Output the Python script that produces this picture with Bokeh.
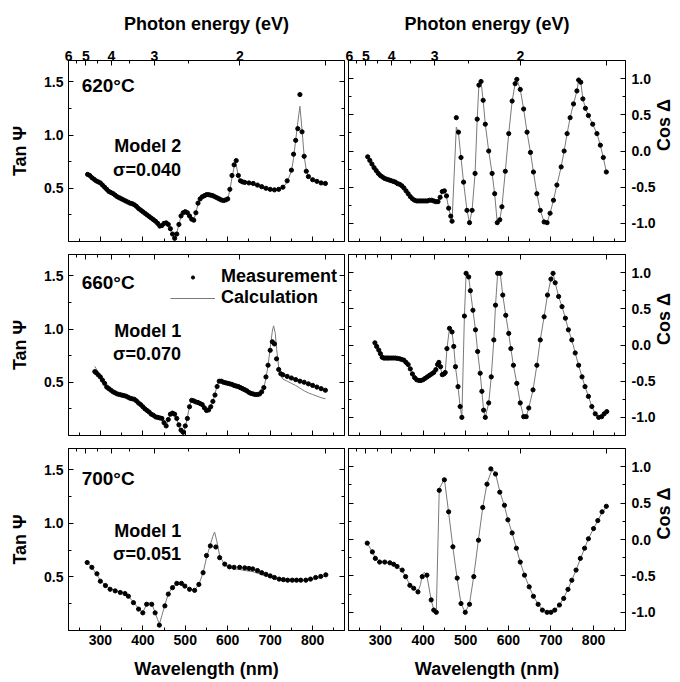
import math
from bokeh.plotting import figure
from bokeh.models import (Range1d, LinearAxis, FixedTicker, NumeralTickFormatter,
                          CustomJSTickFormatter, Label, Legend, LegendItem)
from bokeh.layouts import gridplot
from bokeh.embed import file_html
from bokeh.resources import INLINE

FONT = "Liberation Sans"

# ---------------- data ----------------
# 620 C, Tan Psi
TL_WL = [270, 275, 280, 285, 290, 295, 300, 305, 310, 315,
         320, 325, 330, 335, 340, 345, 350, 355, 360, 365,
         370, 375, 380, 385, 390, 395, 400, 405, 410, 415,
         420, 425, 430, 435, 440, 445, 450, 455, 460, 465,
         470, 475, 480, 485, 490, 495, 500, 505, 510, 515,
         520, 525, 530, 535, 540, 545, 550, 555, 560, 565,
         570, 575, 580, 585, 590, 595, 600, 605, 610, 615,
         620, 625, 630, 635, 640, 650, 660, 670, 680, 690,
         700, 710, 720, 730, 740, 750, 755, 760, 765, 770,
         775, 780, 785, 790, 800, 810, 820, 830]
TL_MEAS = [0.63, 0.62, 0.60, 0.585, 0.57, 0.56, 0.55, 0.53, 0.51, 0.49,
           0.47, 0.46, 0.45, 0.435, 0.42, 0.41, 0.40, 0.39, 0.38, 0.37,
           0.36, 0.355, 0.345, 0.33, 0.31, 0.295, 0.28, 0.265, 0.25, 0.235,
           0.22, 0.205, 0.19, 0.17, 0.145, 0.15, 0.17, 0.175, 0.16, 0.12,
           0.07, 0.03, 0.07, 0.16, 0.24, 0.27, 0.28, 0.27, 0.24, 0.21,
           0.20, 0.27, 0.36, 0.40, 0.42, 0.43, 0.44, 0.44, 0.435, 0.43,
           0.42, 0.41, 0.40, 0.39, 0.385, 0.39, 0.40, 0.49, 0.62, 0.72,
           0.76, 0.62, 0.57, 0.56, 0.555, 0.55, 0.545, 0.53, 0.515, 0.50,
           0.49, 0.485, 0.49, 0.51, 0.57, 0.67, 0.82, 0.95, 1.06, 1.38,
           1.03, 0.80, 0.66, 0.61, 0.58, 0.565, 0.55, 0.545]
TL_CWL = [270, 280, 290, 300, 310, 320, 330, 340, 350, 360,
          370, 380, 390, 400, 410, 420, 430, 440, 445, 450,
          455, 460, 465, 470, 475, 480, 485, 490, 495, 500,
          505, 510, 515, 520, 525, 530, 535, 540, 550, 560,
          570, 580, 590, 600, 605, 610, 615, 620, 625, 630,
          640, 650, 660, 670, 680, 690, 700, 710, 720, 730,
          740, 750, 755, 760, 765, 770, 775, 780, 785, 790,
          800, 810, 820, 830]
TL_CALC = [0.63, 0.60, 0.57, 0.55, 0.51, 0.47, 0.45, 0.42, 0.40, 0.38,
           0.36, 0.345, 0.31, 0.28, 0.25, 0.22, 0.19, 0.15, 0.155, 0.17,
           0.175, 0.155, 0.11, 0.06, 0.035, 0.08, 0.16, 0.235, 0.265, 0.275,
           0.265, 0.235, 0.205, 0.20, 0.27, 0.35, 0.39, 0.41, 0.425, 0.425,
           0.415, 0.395, 0.38, 0.40, 0.48, 0.60, 0.70, 0.72, 0.61, 0.565,
           0.55, 0.545, 0.535, 0.52, 0.505, 0.49, 0.48, 0.48, 0.485, 0.505,
           0.56, 0.66, 0.78, 0.95, 1.12, 1.27, 1.05, 0.80, 0.67, 0.61,
           0.58, 0.565, 0.55, 0.545]

# 620 C, Cos Delta
TR_WL = [270, 275, 280, 285, 290, 295, 300, 305, 310, 315,
         320, 325, 330, 335, 340, 345, 350, 355, 360, 365,
         370, 375, 380, 385, 390, 395, 400, 405, 410, 415,
         420, 425, 430, 435, 440, 445, 450, 455, 460, 465,
         468, 478, 483, 489, 495, 503, 509, 515, 522, 527,
         531, 536, 541, 546, 554, 562, 568, 574, 580, 585,
         593, 601, 609, 616, 620, 628, 636, 644, 652, 659,
         667, 675, 684, 691, 698, 706, 714, 724, 731, 738,
         745, 753, 761, 765, 770, 775, 781, 788, 798, 808,
         816, 823, 830]
TR_MEAS = [-0.08, -0.13, -0.18, -0.23, -0.27, -0.31, -0.34, -0.36, -0.38, -0.39,
           -0.40, -0.41, -0.42, -0.43, -0.45, -0.46, -0.48, -0.51, -0.55, -0.59,
           -0.63, -0.66, -0.68, -0.69, -0.69, -0.69, -0.69, -0.69, -0.69, -0.68,
           -0.68, -0.69, -0.70, -0.70, -0.64, -0.56, -0.55, -0.62, -0.79, -0.90,
           -0.97, 0.46, 0.26, -0.09, -0.43, -0.82, -0.99, -0.82, -0.31, 0.44,
           0.91, 0.96, 0.70, 0.37, 0.00, -0.31, -0.59, -0.99, -0.95, -0.77,
           -0.28, 0.24, 0.69, 0.93, 0.99, 0.85, 0.58, 0.26, -0.02, -0.29,
           -0.59, -0.82, -0.98, -0.99, -0.86, -0.68, -0.47, -0.22, 0.00, 0.24,
           0.46, 0.65, 0.83, 0.98, 0.95, 0.72, 0.59, 0.49, 0.37, 0.24,
           0.08, -0.09, -0.29]
TR_CALC = [-0.08, -0.13, -0.18, -0.23, -0.27, -0.31, -0.34, -0.36, -0.38, -0.39,
           -0.40, -0.41, -0.42, -0.43, -0.45, -0.46, -0.48, -0.51, -0.55, -0.59,
           -0.63, -0.66, -0.68, -0.69, -0.69, -0.69, -0.69, -0.69, -0.69, -0.68,
           -0.68, -0.69, -0.70, -0.70, -0.64, -0.57, -0.56, -0.63, -0.79, -0.90,
           -0.97, 0.33, 0.25, -0.09, -0.43, -0.82, -0.99, -0.82, -0.31, 0.44,
           0.91, 0.96, 0.70, 0.37, 0.00, -0.31, -0.59, -0.99, -0.95, -0.77,
           -0.28, 0.24, 0.69, 0.93, 0.99, 0.85, 0.58, 0.26, -0.02, -0.29,
           -0.59, -0.82, -0.98, -0.99, -0.86, -0.68, -0.47, -0.22, 0.00, 0.24,
           0.46, 0.65, 0.83, 0.98, 0.95, 0.72, 0.59, 0.49, 0.37, 0.24,
           0.08, -0.09, -0.29]

# 660 C, Tan Psi
ML_WL = [287, 290, 295, 300, 305, 310, 315, 320, 325, 330,
         335, 340, 345, 350, 355, 360, 365, 370, 375, 380,
         385, 390, 395, 400, 405, 410, 415, 420, 425, 430,
         435, 440, 445, 450, 455, 460, 465, 470, 475, 480,
         485, 490, 495, 500, 505, 510, 515, 520, 525, 530,
         535, 540, 545, 550, 555, 560, 565, 570, 575, 580,
         585, 590, 595, 600, 605, 610, 615, 620, 625, 630,
         635, 640, 645, 650, 655, 660, 665, 670, 675, 680,
         685, 690, 695, 700, 705, 710, 715, 720, 725, 730,
         740, 750, 760, 770, 780, 790, 800, 810, 820, 830]
ML_MEAS = [0.60, 0.59, 0.57, 0.55, 0.52, 0.49, 0.455, 0.44, 0.425, 0.41,
           0.40, 0.39, 0.385, 0.38, 0.375, 0.37, 0.36, 0.35, 0.345, 0.34,
           0.325, 0.305, 0.29, 0.27, 0.25, 0.235, 0.22, 0.20, 0.19, 0.175,
           0.17, 0.165, 0.16, 0.12, 0.09, 0.15, 0.20, 0.21, 0.20, 0.16,
           0.10, 0.05, 0.03, 0.09, 0.16, 0.27, 0.33, 0.325, 0.315, 0.31,
           0.30, 0.29, 0.26, 0.235, 0.24, 0.27, 0.32, 0.38, 0.46, 0.51,
           0.51, 0.50, 0.495, 0.49, 0.485, 0.48, 0.47, 0.465, 0.46, 0.45,
           0.44, 0.43, 0.42, 0.405, 0.395, 0.39, 0.385, 0.385, 0.39, 0.41,
           0.45, 0.55, 0.66, 0.80, 0.88, 0.86, 0.72, 0.62, 0.58, 0.57,
           0.555, 0.54, 0.525, 0.51, 0.50, 0.485, 0.47, 0.455, 0.44, 0.425]
ML_CWL = [287, 290, 300, 310, 320, 330, 340, 350, 360, 370,
          380, 390, 400, 410, 420, 430, 440, 445, 450, 455,
          460, 465, 470, 475, 480, 485, 490, 495, 500, 505,
          510, 515, 520, 530, 540, 545, 550, 555, 560, 565,
          570, 575, 580, 590, 600, 610, 620, 630, 640, 650,
          660, 670, 680, 685, 690, 695, 700, 705, 708, 712,
          715, 720, 725, 730, 740, 750, 760, 770, 780, 790,
          800, 810, 820, 830]
ML_CALC = [0.65, 0.63, 0.56, 0.49, 0.44, 0.41, 0.39, 0.38, 0.37, 0.35,
           0.34, 0.305, 0.27, 0.235, 0.20, 0.175, 0.165, 0.155, 0.115, 0.09,
           0.15, 0.21, 0.22, 0.20, 0.15, 0.09, 0.04, 0.02, 0.08, 0.17,
           0.28, 0.33, 0.32, 0.30, 0.28, 0.25, 0.225, 0.23, 0.26, 0.32,
           0.39, 0.47, 0.52, 0.50, 0.48, 0.465, 0.445, 0.43, 0.41, 0.39,
           0.375, 0.37, 0.395, 0.44, 0.54, 0.66, 0.82, 0.98, 1.03, 0.96,
           0.82, 0.64, 0.56, 0.53, 0.51, 0.49, 0.47, 0.445, 0.42, 0.40,
           0.385, 0.37, 0.355, 0.345]

# 660 C, Cos Delta
MR_WL = [287, 291, 296, 300, 304, 308, 312, 316, 320, 325,
         330, 335, 340, 345, 350, 355, 360, 365, 370, 375,
         380, 385, 390, 395, 400, 405, 410, 415, 420, 425,
         430, 434, 437, 441, 445, 449, 452, 456, 462, 468,
         472, 476, 482, 487, 491, 497, 501, 507, 511, 517,
         523, 528, 534, 538, 542, 546, 554, 560, 566, 570,
         575, 581, 587, 594, 601, 606, 612, 620, 628, 636,
         642, 648, 658, 667, 675, 684, 692, 700, 705, 710,
         718, 726, 734, 741, 749, 757, 765, 773, 780, 788,
         796, 804, 812, 819, 825, 831]
MR_MEAS = [0.03, -0.02, -0.07, -0.12, -0.17, -0.18, -0.18, -0.18, -0.18, -0.18,
           -0.18, -0.18, -0.185, -0.19, -0.20, -0.21, -0.24, -0.27, -0.33, -0.40,
           -0.45, -0.48, -0.49, -0.49, -0.48, -0.46, -0.44, -0.42, -0.40, -0.38,
           -0.34, -0.27, -0.24, -0.30, -0.41, -0.40, -0.38, -0.05, 0.23, 0.18,
           -0.02, -0.30, -0.575, -0.85, -1.00, 0.40, 0.99, 0.94, 0.75, 0.48,
           0.21, -0.09, -0.39, -0.64, -0.90, -1.00, -0.80, -0.44, 0.07, 0.55,
           0.99, 0.99, 0.69, 0.41, 0.16, -0.05, -0.28, -0.53, -0.80, -0.99,
           -0.99, -0.87, -0.62, -0.28, 0.07, 0.39, 0.69, 0.91, 0.99, 0.86,
           0.67, 0.53, 0.37, 0.21, 0.07, -0.11, -0.28, -0.44, -0.575, -0.71,
           -0.85, -0.95, -1.00, -0.99, -0.95, -0.92]
MR_CALC = [0.04, -0.02, -0.08, -0.13, -0.18, -0.20, -0.20, -0.19, -0.19, -0.18,
           -0.18, -0.18, -0.185, -0.19, -0.20, -0.21, -0.24, -0.28, -0.34, -0.41,
           -0.46, -0.49, -0.50, -0.49, -0.48, -0.46, -0.44, -0.42, -0.40, -0.38,
           -0.34, -0.27, -0.24, -0.31, -0.42, -0.41, -0.38, -0.05, 0.23, 0.18,
           -0.02, -0.30, -0.575, -0.85, -1.00, 0.40, 0.99, 0.94, 0.75, 0.48,
           0.21, -0.09, -0.39, -0.64, -0.90, -1.00, -0.80, -0.44, 0.07, 0.55,
           0.99, 0.99, 0.69, 0.41, 0.16, -0.05, -0.28, -0.53, -0.80, -0.99,
           -0.99, -0.87, -0.62, -0.28, 0.07, 0.39, 0.69, 0.91, 0.99, 0.86,
           0.67, 0.53, 0.37, 0.21, 0.07, -0.11, -0.28, -0.44, -0.575, -0.71,
           -0.85, -0.95, -1.00, -0.99, -0.95, -0.92]

# 700 C, Tan Psi
BL_WL = [269, 280, 292, 300, 312, 323, 335, 347, 358, 366,
         378, 390, 400, 409, 421, 429, 439, 452, 460, 470,
         480, 491, 499, 510, 522, 532, 542, 550, 559, 572,
         581, 593, 604, 615, 628, 640, 650, 659, 670, 680,
         690, 700, 710, 721, 731, 741, 752, 762, 772, 784,
         795, 807, 819, 831]
BL_MEAS = [0.635, 0.59, 0.53, 0.46, 0.42, 0.385, 0.37, 0.355, 0.345, 0.32,
           0.26, 0.20, 0.165, 0.245, 0.245, 0.165, 0.05, 0.23, 0.34, 0.40,
           0.44, 0.44, 0.415, 0.385, 0.375, 0.43, 0.54, 0.70, 0.79, 0.78,
           0.68, 0.62, 0.595, 0.59, 0.59, 0.585, 0.58, 0.575, 0.56, 0.54,
           0.525, 0.51, 0.495, 0.48, 0.475, 0.47, 0.47, 0.47, 0.47, 0.47,
           0.48, 0.495, 0.505, 0.52]
BL_CWL = [269, 280, 292, 300, 312, 323, 335, 347, 358, 366,
          378, 390, 400, 405, 409, 415, 421, 429, 435, 439,
          445, 452, 460, 470, 480, 491, 499, 510, 522, 532,
          542, 550, 559, 565, 569, 574, 581, 593, 604, 615,
          628, 640, 650, 659, 670, 680, 690, 700, 710, 721,
          731, 741, 752, 762, 772, 784, 795, 807, 819, 831]
BL_CALC = [0.64, 0.59, 0.52, 0.47, 0.42, 0.39, 0.375, 0.36, 0.345, 0.32,
           0.265, 0.205, 0.17, 0.21, 0.245, 0.26, 0.25, 0.17, 0.10, 0.06,
           0.14, 0.24, 0.34, 0.41, 0.43, 0.43, 0.41, 0.385, 0.38, 0.43,
           0.54, 0.68, 0.80, 0.88, 0.92, 0.84, 0.70, 0.61, 0.585, 0.575,
           0.57, 0.56, 0.555, 0.55, 0.535, 0.52, 0.51, 0.495, 0.485, 0.475,
           0.47, 0.465, 0.465, 0.465, 0.465, 0.47, 0.475, 0.485, 0.495, 0.51]

# 700 C, Cos Delta
BR_WL = [269, 281, 288, 298, 310, 322, 331, 339, 351, 359,
         369, 378, 388, 398, 409, 419, 425, 431, 438, 450,
         460, 470, 480, 489, 499, 509, 519, 530, 540, 550,
         559, 570, 580, 591, 599, 609, 619, 628, 638, 649,
         659, 670, 680, 691, 700, 709, 720, 730, 740, 749,
         759, 769, 779, 788, 800, 810, 820, 830]
BR_MEAS = [-0.05, -0.17, -0.26, -0.31, -0.31, -0.32, -0.34, -0.37, -0.42, -0.51,
           -0.63, -0.67, -0.72, -0.51, -0.49, -0.83, -0.97, -1.00, 0.675, 0.82,
           0.38, -0.10, -0.53, -0.88, -1.00, -0.89, -0.51, -0.01, 0.44, 0.76,
           0.97, 0.90, 0.65, 0.47, 0.27, 0.09, -0.12, -0.31, -0.49, -0.65,
           -0.78, -0.89, -0.97, -1.00, -1.00, -0.97, -0.90, -0.81, -0.685, -0.56,
           -0.42, -0.26, -0.12, 0.01, 0.15, 0.26, 0.38, 0.456]
BR_CWL = [269, 281, 288, 298, 310, 322, 331, 339, 351, 359,
          369, 378, 388, 394, 398, 403, 409, 419, 425, 431,
          438, 450, 460, 470, 480, 489, 499, 509, 519, 530,
          540, 550, 559, 565, 570, 580, 591, 599, 609, 619,
          628, 638, 649, 659, 670, 680, 691, 700, 709, 720,
          730, 740, 749, 759, 769, 779, 788, 800, 810, 820,
          830]
BR_CALC = [-0.05, -0.17, -0.25, -0.30, -0.31, -0.32, -0.34, -0.37, -0.43, -0.51,
           -0.62, -0.67, -0.71, -0.62, -0.48, -0.45, -0.50, -0.83, -0.96, -1.00,
           0.70, 0.83, 0.37, -0.11, -0.54, -0.88, -1.00, -0.88, -0.50, 0.00,
           0.44, 0.77, 0.92, 0.95, 0.91, 0.66, 0.46, 0.27, 0.09, -0.12,
           -0.31, -0.49, -0.65, -0.78, -0.89, -0.96, -1.00, -1.00, -0.97, -0.90,
           -0.80, -0.685, -0.56, -0.42, -0.27, -0.12, 0.01, 0.15, 0.26, 0.37,
           0.45]

TEMPS = ["620°C", "660°C", "700°C"]
MODELS = ["Model 2", "Model 1", "Model 1"]
SIGMAS = ["σ=0.040", "σ=0.070", "σ=0.051"]

WL_TICKS = [300, 400, 500, 600, 700, 800]
WL_MINOR = [250, 350, 450, 550, 650, 750, 850]
EV_TICKS = [6, 5, 4, 3, 2, 1.5]
EV_MINOR = [5.5, 4.5, 3.5, 2.5]
TAN_TICKS = [0.5, 1.0, 1.5]
TAN_MINOR = [0.25, 0.75, 1.25]
COS_TICKS = [-1.0, -0.5, 0.0, 0.5, 1.0]
COS_MINOR = [-0.75, -0.25, 0.25, 0.75]

HC = 1239.84  # eV*nm: photon energy -> wavelength for the top axis
EV_POS = [HC / e for e in EV_TICKS]
EV_MINOR_POS = [HC / e for e in EV_MINOR]

PANELS = [
    [(TL_WL, TL_MEAS, TL_CWL, TL_CALC), (TR_WL, TR_MEAS, TR_WL, TR_CALC)],
    [(ML_WL, ML_MEAS, ML_CWL, ML_CALC), (MR_WL, MR_MEAS, MR_WL, MR_CALC)],
    [(BL_WL, BL_MEAS, BL_CWL, BL_CALC), (BR_WL, BR_MEAS, BR_CWL, BR_CALC)],
]


def make_axis(ticks, minor, formatter, show, **kw):
    ax = LinearAxis(ticker=FixedTicker(ticks=ticks, minor_ticks=minor),
                    formatter=formatter, **kw)
    ax.axis_line_color = "black"
    ax.major_tick_line_color = "black"
    ax.minor_tick_line_color = "black"
    ax.major_tick_in = 5
    ax.major_tick_out = 0
    ax.minor_tick_in = 3
    ax.minor_tick_out = 0
    if show:
        ax.major_label_text_font = FONT
        ax.major_label_text_font_size = "14px"
        ax.major_label_text_font_style = "bold"
        ax.major_label_text_color = "black"
        ax.axis_label_text_font = FONT
        ax.axis_label_text_font_size = "18px"
        ax.axis_label_text_font_style = "bold"
        ax.axis_label_text_color = "black"
    else:
        # mirrored frame side: tick marks only, tick labels switched off
        ax.major_label_text_color = None
        ax.major_label_standoff = 0
        ax.axis_label = None
    return ax


EV_FMT_CODE = """
    const e = 1239.84 / tick;
    return (e < 1.8) ? "" : e.toFixed(0);
"""


def make_panel(row, col):
    wl, meas, cwl, calc = PANELS[row][col]
    left = col == 0
    p = figure(frame_width=276 if left else 277,
               frame_height=182 if row == 2 else 181,
               output_backend="svg", toolbar_location=None,
               x_range=Range1d(225, 875),
               y_range=Range1d(0, 1.7) if left else Range1d(-1.25, 1.25),
               x_axis_location=None, y_axis_location=None,
               min_border_left=68 if left else 3,
               min_border_right=1 if left else 55,
               min_border_top=60 if row == 0 else 7,
               min_border_bottom=52 if row == 2 else 6)
    p.extra_x_ranges = {"ev": Range1d(206.0, 873)}
    p.grid.visible = False
    p.outline_line_color = "black"
    p.outline_line_width = 1
    p.background_fill_color = "white"
    p.border_fill_color = "white"

    # bottom wavelength axis
    bx = make_axis(WL_TICKS, WL_MINOR, NumeralTickFormatter(format="0"), row == 2)
    if row == 2:
        bx.axis_label = "Wavelength (nm)"
        bx.major_label_standoff = 4
        bx.axis_label_standoff = 11
    p.add_layout(bx, "below")

    # top photon-energy axis
    tx = make_axis(EV_POS, EV_MINOR_POS, CustomJSTickFormatter(code=EV_FMT_CODE),
                   row == 0, x_range_name="ev")
    if row == 0:
        tx.axis_label = "Photon energy (eV)"
        tx.major_label_standoff = 0
        tx.axis_label_standoff = 14
    p.add_layout(tx, "above")

    # y axes
    yt, ym = (TAN_TICKS, TAN_MINOR) if left else (COS_TICKS, COS_MINOR)
    ly = make_axis(yt, ym, NumeralTickFormatter(format="0.0"), left)
    ry = make_axis(yt, ym, NumeralTickFormatter(format="0.0"), not left)
    if left:
        ly.axis_label = "Tan Ψ"
        ly.major_label_standoff = 5
        ly.axis_label_standoff = 11
    else:
        ry.axis_label = "Cos Δ"
        ry.axis_label_orientation = math.pi / 2
        ry.major_label_standoff = 6
        ry.axis_label_standoff = 5
    p.add_layout(ly, "left")
    p.add_layout(ry, "right")

    ln = p.line(cwl, calc, line_color="#7a7a7a", line_width=1)
    sc = p.scatter(wl, meas, marker="circle", size=4.2, fill_color="black",
                   line_color="black")

    if left:
        ty = [1.465, 1.44, 1.42][row]
        my = [0.90, 0.986, 0.933][row]
        sy = [0.667, 0.768, 0.714][row]
        p.add_layout(Label(x=256, y=ty, text=TEMPS[row], text_font=FONT,
                           text_font_size="19px", text_font_style="bold",
                           text_baseline="middle", text_color="black"))
        p.add_layout(Label(x=333, y=my, text=MODELS[row], text_font=FONT,
                           text_font_size="18px", text_font_style="bold",
                           text_baseline="middle", text_color="black"))
        p.add_layout(Label(x=330, y=sy, text=SIGMAS[row], text_font=FONT,
                           text_font_size="18px", text_font_style="bold",
                           text_baseline="middle", text_color="black"))
        if row == 1:
            leg = Legend(items=[LegendItem(label="Measurement", renderers=[sc]),
                                LegendItem(label="Calculation", renderers=[ln])],
                         location=(102, 127), orientation="vertical",
                         label_text_font=FONT, label_text_font_size="18px",
                         label_text_font_style="bold", label_text_color="black",
                         glyph_width=45, glyph_height=8, label_height=18,
                         label_standoff=6, spacing=0, padding=0, margin=0,
                         background_fill_alpha=0, border_line_color=None)
            p.add_layout(leg)
    return p


grid = [[make_panel(r, c) for c in range(2)] for r in range(3)]
layout = gridplot(grid, toolbar_location=None)

open("out.html", "w").write(file_html(layout, INLINE))
